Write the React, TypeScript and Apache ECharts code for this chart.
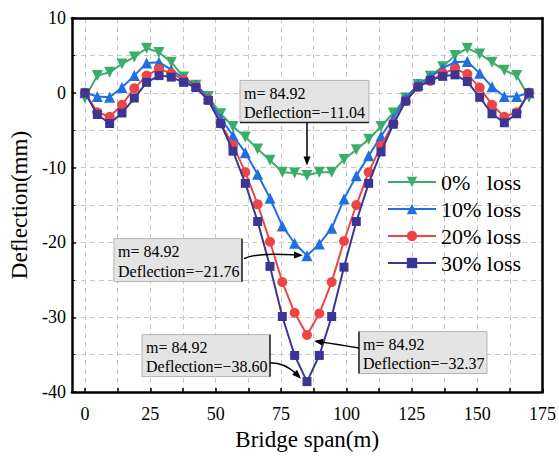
import React, { useEffect, useRef } from "react";
import * as echarts from "echarts";

// Bridge stations (m)
const spanPositions = [
  0, 4.72, 9.44, 14.15, 18.87, 23.59, 28.31, 33.02, 37.74, 42.46, 47.18, 51.9,
  56.61, 61.33, 66.05, 70.77, 75.48, 80.2, 84.92, 89.64, 94.36, 99.07, 103.79,
  108.51, 113.23, 117.94, 122.66, 127.38, 132.1, 136.82, 141.53, 146.25,
  150.97, 155.69, 160.4, 165.12, 169.84,
];

const loss0 = [
  -0.7, 2.3, 2.75, 3.85, 4.8, 5.95, 5.4, 4.1, 2.1, 1.0, -0.5, -2.8, -4.5, -5.9,
  -7.5, -9.0, -10.6, -10.7, -11.04, -10.6, -10.6, -8.9, -7.6, -6.2, -4.5, -2.7,
  -0.7, 1.1, 2.2, 3.5, 5.0, 5.95, 5.2, 4.1, 3.0, 2.3, -0.6,
];
const loss10 = [
  0, -0.5, -0.6, 0.7, 2.3, 4.0, 4.1, 3.1, 1.9, 1.0, -0.7, -3.4, -5.7, -8.0,
  -10.9, -14.1, -17.8, -20.1, -21.76, -20.2, -18.1, -14.2, -11.1, -8.4, -5.8,
  -3.4, -0.7, 1.1, 2.1, 3.3, 4.1, 4.2, 2.6, 0.8, -0.5, -0.5, 0,
];
const loss20 = [
  0, -2.6, -3.2, -1.6, 0.6, 2.3, 3.2, 2.6, 1.7, 0.8, -0.9, -4.1, -7.0, -10.6,
  -14.9, -19.9, -25.3, -29.4, -32.37, -29.5, -25.3, -19.8, -15.0, -10.6, -7.1,
  -4.1, -1.1, 0.8, 1.6, 2.6, 3.2, 2.5, 0.7, -1.6, -3.2, -2.6, 0,
];
const loss30 = [
  0, -2.9, -4.1, -2.7, -0.7, 1.4, 2.3, 2.1, 1.4, 0.7, -1.0, -4.1, -7.8, -12.1,
  -17.2, -23.2, -29.9, -35.1, -38.6, -35.1, -29.9, -23.3, -17.2, -12.1, -7.9,
  -4.2, -1.1, 0.8, 1.7, 2.2, 2.4, 1.5, -0.6, -2.8, -4.0, -2.8, 0,
];

const seriesNames = ["0%   loss", "10% loss", "20% loss", "30% loss"];
const seriesColors = ["#3aae69", "#1f6fe3", "#f04444", "#3b3596"];
const seriesSymbols = ["triangle", "triangle", "circle", "rect"];
const seriesRotate = [180, 0, 0, 0];
const xLabelValues = [0, 25, 50, 75, 100, 125, 150, 175];
const xTickValues = [0, 12.5, 25, 37.5, 50, 62.5, 75, 87.5, 100, 112.5, 125, 137.5, 150, 162.5, 175];

const midSpan = 84.92;
const peakDeflections = [-11.04, -21.76, -32.37, -38.6];
const peakLabels = ["Deflection=\u221211.04", "Deflection=\u221221.76", "Deflection=\u221232.37", "Deflection=\u221238.60"];

const FONT = "Liberation Serif";

// annotation layout relative to anchor point (pixels)
type Ann = {
  box: [number, number, number, number];
  edge: "bottom" | "right" | "left";
  curve: number[]; // x1,y1,cpx1,cpy1,cpx2,cpy2,x2,y2
  tip: [number, number];
};
const annLayout: Ann[] = [
  { box: [-67, -95, 129, 42], edge: "bottom", curve: [0, -53, 0, -40, 0, -25, 0, -18], tip: [0, -10] },
  { box: [-193, -17, 128, 43], edge: "right", curve: [-63, 3, -50, -3, -30, -1, -12, -1], tip: [-4, -0.5] },
  { box: [52, -3.5, 128, 42], edge: "left", curve: [52, 13, 40, 11, 28, 9, 14, 7], tip: [7, 6] },
  { box: [-165, -47, 128, 42], edge: "right", curve: [-37, -19, -25, -19, -16, -13, -11, -8], tip: [-6, -3] },
];

function buildGraphics(anchors: number[][]) {
  const els: any[] = [];
  anchors.forEach((p, i) => {
    const a = annLayout[i];
    const [bx, by, bw, bh] = a.box;
    const x0 = p[0] + bx;
    const y0 = p[1] + by;
    els.push({
      type: "rect",
      z: 20,
      shape: { x: x0, y: y0, width: bw, height: bh },
      style: { fill: "#e4e4e4", stroke: "#b4b4b4", lineWidth: 1 },
    });
    let edge;
    if (a.edge === "bottom") edge = { x1: x0, y1: y0 + bh, x2: x0 + bw, y2: y0 + bh };
    else if (a.edge === "right") edge = { x1: x0 + bw, y1: y0, x2: x0 + bw, y2: y0 + bh };
    else edge = { x1: x0, y1: y0, x2: x0, y2: y0 + bh };
    els.push({ type: "line", z: 21, shape: edge, style: { stroke: "#222", lineWidth: 1.5 } });
    els.push({
      type: "text",
      z: 22,
      x: x0 + 4,
      y: y0 + bh * 0.3,
      style: { text: "m= " + midSpan.toFixed(2), fontFamily: FONT, fontSize: 16, fill: "#000", verticalAlign: "middle" },
    });
    els.push({
      type: "text",
      z: 22,
      x: x0 + 4,
      y: y0 + bh * 0.76,
      style: { text: peakLabels[i], fontFamily: FONT, fontSize: 16, fill: "#000", verticalAlign: "middle" },
    });
    const c = a.curve;
    els.push({
      type: "bezierCurve",
      z: 22,
      shape: {
        x1: p[0] + c[0], y1: p[1] + c[1],
        cpx1: p[0] + c[2], cpy1: p[1] + c[3],
        cpx2: p[0] + c[4], cpy2: p[1] + c[5],
        x2: p[0] + c[6], y2: p[1] + c[7],
      },
      style: { stroke: "#000", lineWidth: 1.5, fill: null },
    });
    const tx = p[0] + a.tip[0];
    const ty = p[1] + a.tip[1];
    let dx = tx - (p[0] + c[4]);
    let dy = ty - (p[1] + c[5]);
    const len = Math.hypot(dx, dy) || 1;
    dx /= len;
    dy /= len;
    const bxp = tx - dx * 9;
    const byp = ty - dy * 9;
    els.push({
      type: "polygon",
      z: 23,
      shape: {
        points: [
          [tx, ty],
          [bxp - dy * 3.5, byp + dx * 3.5],
          [bxp + dy * 3.5, byp - dx * 3.5],
        ],
      },
      style: { fill: "#000" },
    });
  });
  return els;
}

export default function App() {
  const ref = useRef<HTMLDivElement>(null);
  useEffect(() => {
    if (!ref.current) return;
    const chart = echarts.init(ref.current, null, { renderer: "svg" });
    const allSeries = [loss0, loss10, loss20, loss30];
    const option: any = {
      animation: false,
      backgroundColor: "#fff",
      textStyle: { fontFamily: FONT },
      grid: { left: 68, right: 16, top: 18, bottom: 58 },
      legend: {
        orient: "vertical",
        left: 387,
        top: 171,
        padding: 0,
        itemWidth: 48,
        itemHeight: 13,
        itemGap: 5,
        textStyle: { fontFamily: FONT, fontSize: 22, color: "#000" },
        data: seriesNames,
      },
      xAxis: [
        {
          type: "value",
          min: -5,
          max: 175,
          name: "Bridge span(m)",
          nameLocation: "middle",
          nameGap: 33,
          nameTextStyle: { fontFamily: FONT, fontSize: 23, color: "#000" },
          axisLine: { show: true, onZero: false, lineStyle: { color: "#000", width: 2.5 } },
          axisTick: { show: true, inside: true, length: 4, customValues: xTickValues, lineStyle: { color: "#000", width: 1.5 } },
          axisLabel: { customValues: xLabelValues, margin: 13, fontFamily: FONT, fontSize: 18, color: "#000" },
          splitLine: { show: true, lineStyle: { color: "#c6c6c6", type: [5, 4], width: 1 } },
        },
        {
          type: "value",
          position: "top",
          min: -5,
          max: 175,
          axisLine: { show: true, onZero: false, lineStyle: { color: "#000", width: 2.5 } },
          axisTick: { show: false },
          axisLabel: { show: false },
          splitLine: { show: false },
        },
      ],
      yAxis: [
        {
          type: "value",
          min: -40,
          max: 10,
          interval: 10,
          name: "Deflection(mm)",
          nameLocation: "middle",
          nameGap: 35,
          nameTextStyle: { fontFamily: FONT, fontSize: 23, color: "#000" },
          axisLine: { show: true, onZero: false, lineStyle: { color: "#000", width: 2.5 } },
          axisTick: { show: true, inside: true, length: 4, lineStyle: { color: "#000", width: 1.5 } },
          minorTick: { show: true, splitNumber: 2, length: 3, lineStyle: { color: "#000", width: 1 } },
          axisLabel: { margin: 6, fontFamily: FONT, fontSize: 18, color: "#000" },
          splitLine: { show: true, lineStyle: { color: "#c6c6c6", type: [5, 4], width: 1 } },
          minorSplitLine: { show: true, lineStyle: { color: "#c6c6c6", type: [5, 4], width: 1 } },
        },
        {
          type: "value",
          position: "right",
          min: -40,
          max: 10,
          axisLine: { show: true, onZero: false, lineStyle: { color: "#000", width: 2.5 } },
          axisTick: { show: false },
          axisLabel: { show: false },
          splitLine: { show: false },
        },
      ],
      series: allSeries.map((vals, i) => ({
        name: seriesNames[i],
        type: "line",
        xAxisIndex: 0,
        yAxisIndex: 0,
        data: spanPositions.map((x, k) => [x, vals[k]]),
        symbol: seriesSymbols[i],
        symbolRotate: seriesRotate[i],
        symbolSize: i === 2 ? 10 : i === 3 ? 9 : 11,
        showAllSymbol: true,
        color: seriesColors[i],
        lineStyle: { width: 2, color: seriesColors[i] },
        itemStyle: { color: seriesColors[i] },
        z: 2 + i,
      })),
    };
    chart.setOption(option);
    const anchors = peakDeflections.map((v) => chart.convertToPixel({ gridIndex: 0 }, [midSpan, v]) as number[]);
    chart.setOption({ graphic: buildGraphics(anchors) });
    return () => chart.dispose();
  }, []);
  return <div ref={ref} style={{ position: "absolute", left: 0, top: 0, width: 559, height: 456 }} />;
}
